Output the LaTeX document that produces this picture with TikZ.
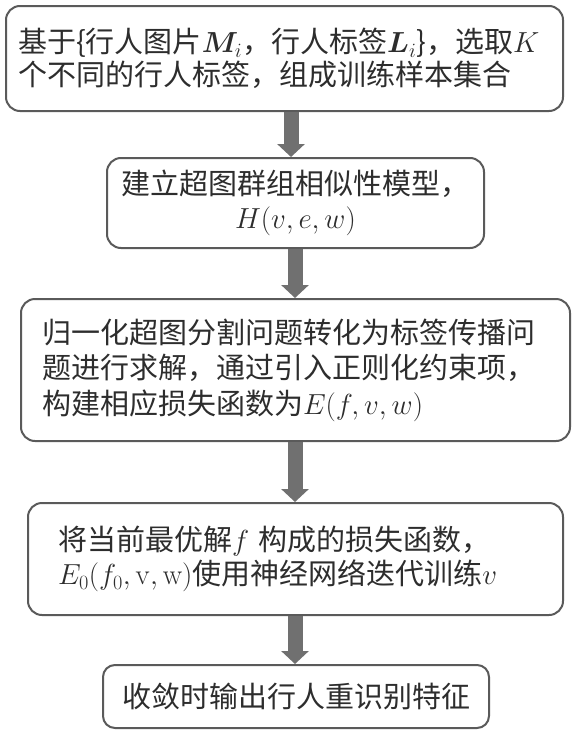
\documentclass[tikz,border=0pt]{standalone}
\usepackage{fix-cm}
\usepackage{bm}
\usepackage[no-math]{fontspec}
\setmainfont{Noto Sans CJK SC}
\usetikzlibrary{arrows.meta}
\definecolor{boxline}{RGB}{90,90,90}
\definecolor{arrcol}{RGB}{112,112,112}
\definecolor{txt}{RGB}{45,45,45}
\begin{document}
\begin{tikzpicture}[x=1pt,y=-1pt,
  stepbox/.style={draw=boxline, line width=2pt, rounded corners=14pt, fill=white,
    text=txt, font=\fontsize{29}{34.5}\selectfont, inner ysep=0pt},
  flowarr/.style={draw=arrcol, line width=15pt, -{Triangle[width=27pt,length=13pt]}}]
\useasboundingbox[fill=white] (0,0) rectangle (576,736);

\node[stepbox, text width=533pt, inner xsep=12pt, minimum height=105pt, align=left, font=\fontsize{29}{33}\selectfont]
  (b1) at (284.5,58.5) {基于\{行人图片$\bm{M}_i$，行人标签$\bm{L}_i$\}，选取$K$\\个不同的行人标签，组成训练样本集合};

\node[stepbox, minimum width=377pt, minimum height=90pt, align=center, inner xsep=6pt]
  (b2) at (295.5,203) {建立超图群组相似性模型，\\$H(v,e,w)$};

\node[stepbox, text width=507pt, inner xsep=21pt, minimum height=142pt, align=left, font=\fontsize{29}{35.5}\selectfont]
  (b3) at (295.5,370) {归一化超图分割问题转化为标签传播问\\题进行求解，通过引入正则化约束项，\\构建相应损失函数为$E(f,v,w)$};

\node[stepbox, text width=475pt, inner xsep=30pt, minimum height=112pt, align=left]
  (b4) at (295.5,559) {将当前最优解$f$ 构成的损失函数，\\$E_0(f_0,\mathrm{v},\mathrm{w})$使用神经网络迭代训练$v$};

\node[stepbox, rounded corners=12pt, minimum width=386pt, minimum height=63pt, align=center]
  (b5) at (296,696.5) {收敛时输出行人重识别特征};

\coordinate (c1) at (291,0);
\coordinate (c2) at (295,0);
\draw[flowarr] (b1.south -| c1) -- (b2.north -| c1);
\draw[flowarr] (b2.south -| c2) -- (b3.north -| c2);
\draw[flowarr] (b3.south -| c2) -- (b4.north -| c2);
\draw[flowarr] (b4.south -| c2) -- (b5.north -| c2);
\end{tikzpicture}
\end{document}
